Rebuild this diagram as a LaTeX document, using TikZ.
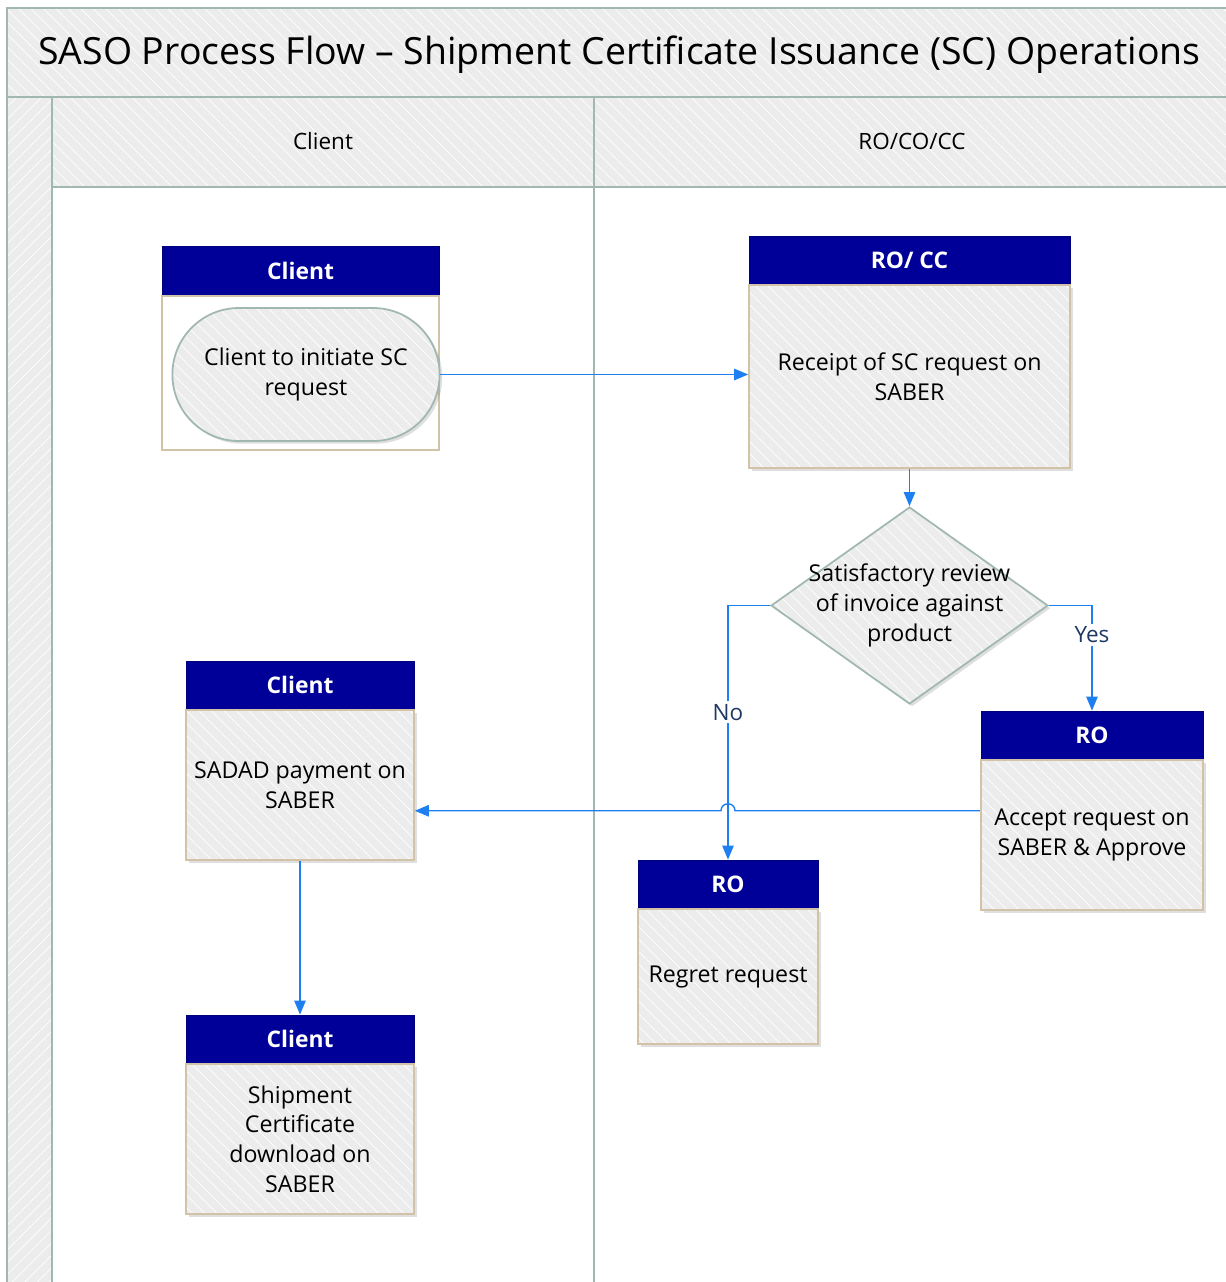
\documentclass[tikz,border=0pt]{standalone}
\usepackage{fontspec}
\setmainfont{Open Sans}
\usetikzlibrary{positioning, shapes.geometric, shapes.misc, arrows.meta, calc, fit, shadows, patterns.meta}
\definecolor{hdrblue}{RGB}{0,0,153}
\definecolor{flowblue}{RGB}{30,127,240}
\definecolor{lanegray}{RGB}{236,236,236}
\definecolor{laneline}{RGB}{160,184,176}
\definecolor{boxtan}{RGB}{210,194,166}
\definecolor{labelnavy}{RGB}{31,56,100}

\begin{document}
\begin{tikzpicture}[x=0.02cm, y=-0.02cm]
        \tikzstyle{hatched}=[preaction={fill=lanegray}, preaction={pattern={Lines[angle=-45,distance=5pt,line width=0.4pt]}, pattern color=white}]
        \tikzstyle{lane}=[hatched, draw=laneline, line width=1.1pt]
        \tikzstyle{strip}=[preaction={fill=lanegray}, preaction={pattern={Lines[angle=45,distance=5pt,line width=0.4pt]}, pattern color=white}, draw=laneline, line width=1.1pt]
        \tikzstyle{shade}=[drop shadow={shadow xshift=1.5pt, shadow yshift=-1.5pt, opacity=0.25}]
        \tikzstyle{hdr}=[rectangle, fill=hdrblue, draw=hdrblue!80!black, text=white, inner sep=0pt, font=\bfseries\fontsize{13}{15}\selectfont]
        \tikzstyle{body}=[rectangle, shade, hatched, draw=boxtan, line width=0.9pt, inner sep=1pt, align=center, font=\fontsize{13.2}{17}\selectfont]
        \tikzstyle{flow}=[draw=flowblue, line width=0.8pt, -{Triangle[length=8pt, width=6.5pt]}]
        \tikzstyle{lbl}=[fill=white, text=labelnavy, inner sep=1.5pt, font=\fontsize{12.8}{15}\selectfont]

        \useasboundingbox (0,0) rectangle (1226,1282);
        \clip (0,0) rectangle (1226,1282);

        % Title band and swimlanes
        \draw[lane] (7,8) rectangle (1240,97);
        \draw[strip] (7,97) rectangle (52,1300);
        \draw[lane] (52,97) rectangle (594,187);
        \draw[lane] (594,97) rectangle (1240,187);
        \draw[laneline, line width=1.1pt] (52,187) -- (52,1300);
        \draw[laneline, line width=1.1pt] (594,187) -- (594,1300);
        \node[anchor=base west, inner sep=0pt, font=\fontsize{21.3}{26}\selectfont] (title) at (38,64) {SASO Process Flow – Shipment Certificate Issuance (SC) Operations};
        \node[font=\fontsize{12.8}{15}\selectfont] (laneClient) at (323,141) {Client};
        \node[font=\fontsize{12.8}{15}\selectfont] (laneRO) at (912,141) {RO/CO/CC};

        % Client starts the request
        \node[hdr, minimum width=5.54cm, minimum height=0.98cm] (clientH) at (300.5,270.5) {Client};
        \node[rectangle, fill=white, draw=boxtan, line width=0.9pt, minimum width=5.54cm, minimum height=3.08cm, below=0pt of clientH] (clientB) {};
        \node[rounded rectangle, shade, hatched, draw=laneline, line width=1pt, minimum width=5.58cm, minimum height=2.66cm, align=center, font=\fontsize{13.2}{17}\selectfont] (initiate) at (306,374.5) {Client to initiate SC\\request};

        % RO / CC receives it
        \node[hdr, minimum width=6.42cm, minimum height=0.96cm] (roccH) at (909.5,260) {RO/ CC};
        \node[body, minimum width=6.42cm, minimum height=3.66cm, below=0pt of roccH] (roccB) {Receipt of SC request on\\SABER};

        % Review decision
        \node[diamond, shade, hatched, draw=laneline, line width=1pt, inner sep=0pt, minimum width=5.54cm, minimum height=3.94cm, label={[align=center, font=\fontsize{13.2}{17}\selectfont]center:Satisfactory review\\of invoice against\\product}] (review) at (909.5,605.5) {};

        % Outcomes
        \node[hdr, minimum width=4.44cm, minimum height=0.96cm] (acceptH) at (1092,735) {RO};
        \node[body, minimum width=4.44cm, minimum height=3.0cm, below=0pt of acceptH] (acceptB) {Accept request on\\SABER \& Approve};
        \node[fit=(acceptH)(acceptB), inner sep=0pt] (accept) {};

        \node[hdr, minimum width=3.6cm, minimum height=0.96cm] (regretH) at (728,884) {RO};
        \node[body, minimum width=3.6cm, minimum height=2.7cm, below=0pt of regretH] (regretB) {Regret request};

        \node[hdr, minimum width=4.56cm, minimum height=0.96cm] (sadadH) at (300,685) {Client};
        \node[body, minimum width=4.56cm, minimum height=3.0cm, below=0pt of sadadH] (sadadB) {SADAD payment on\\SABER};

        \node[hdr, minimum width=4.56cm, minimum height=0.96cm] (shipH) at (300,1039) {Client};
        \node[body, minimum width=4.56cm, minimum height=3.0cm, below=0pt of shipH] (shipB) {Shipment\\Certificate\\download on\\SABER};

        % Connectors
        \draw[flow] (initiate.east) -- (initiate.east -| roccB.west);
        \draw[flow] (roccB.south) -- (review.north);
        \draw[flow] (review.west) -| node[lbl, pos=0.71] {No} (regretH.north);
        \draw[flow] (review.east) -| node[lbl, pos=0.64] {Yes} (acceptH.north);

        % Hop over the No line
        \coordinate (cross) at (accept.west -| regretH.north);
        \coordinate (hopR) at ($(cross)+(7,0)$);
        \coordinate (hopL) at ($(cross)+(-7,0)$);
        \draw[flow] (accept.west) -- (hopR) .. controls ($(hopR)+(0,-9.3)$) and ($(hopL)+(0,-9.3)$) .. (hopL) -- (accept.west -| sadadB.east);
        \draw[flow] (sadadB.south) -- (shipH.north);
    \end{tikzpicture}
\end{document}
